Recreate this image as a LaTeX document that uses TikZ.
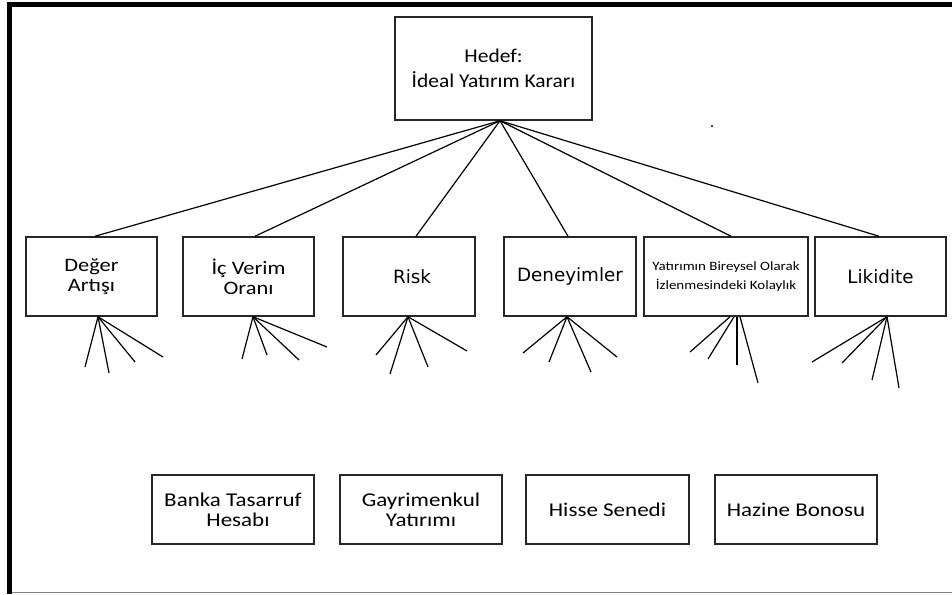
\documentclass[tikz,border=0pt]{standalone}
\usepackage{fontspec}
\setmainfont{Carlito}
\newfontfamily\calib[FakeStretch=1.18]{Carlito}
\newfontfamily\calibtop[FakeStretch=1.1]{Carlito}
\newfontfamily\dejav{DejaVu Sans}
\begin{document}
\begin{tikzpicture}[x=1pt,y=-1pt,
  box/.style={draw=black!85, line width=1.5pt, fill=white, inner sep=0pt, align=center},
  topbox/.style={box, minimum width=197pt, minimum height=103pt},
  critbox/.style={box, minimum height=79pt},
  altbox/.style={box, minimum width=162pt, minimum height=69pt},
  bigtxt/.style={font=\calibtop\fontsize{19.5}{25}\selectfont},
  midtxt/.style={font=\calib\fontsize{19}{20}\selectfont},
  widetxt/.style={font=\dejav\fontsize{18.3}{22}\selectfont},
  smalltxt/.style={font=\calib\fontsize{12.7}{19}\selectfont},
  alttxt/.style={font=\calib\fontsize{19.5}{20}\selectfont},
  link/.style={line width=1.2pt, black},
  fan/.style={line width=1.2pt, black}]
\useasboundingbox (0,0) rectangle (952,594);
\fill[white] (0,0) rectangle (952,594);

% outer frame: heavy top and left edge, thin bottom edge
\fill[black] (6.7,2.3) rectangle (952,7.3);
\fill[black] (6.7,2.3) rectangle (11.7,594);
\draw[gray, line width=1.2pt] (11.7,592.8) -- (952,592.8);

% goal
\node[topbox, bigtxt] (goal) at (493.5,68.5) {Hedef:\\İdeal Yatırım Kararı};

% criteria
\node[critbox, minimum width=131pt, midtxt] (deger) at (91.5,276.5) {Değer\\Artışı};
\node[critbox, minimum width=131pt, midtxt] (icverim) at (248.5,276.5) {İç Verim\\Oranı};
\node[critbox, minimum width=132pt, widetxt] (risk) at (409,276.5) {\hspace*{6pt}Risk};
\node[critbox, minimum width=132pt, widetxt] (deneyim) at (570,276.5) {Deneyimler};
\node[critbox, minimum width=164pt, smalltxt] (izleme) at (726,276.5) {Yatırımın Bireysel Olarak\\İzlenmesindeki Kolaylık};
\node[critbox, minimum width=131pt, widetxt] (likidite) at (880.5,276.5) {Likidite};

% alternatives
\node[altbox, alttxt] (banka) at (233,509.5) {Banka Tasarruf\\\hspace*{10pt}Hesabı};
\node[altbox, alttxt] (gayri) at (421,509.5) {Gayrimenkul\\Yatırımı};
\node[altbox, minimum width=163pt, alttxt] (hisse) at (607.5,509.5) {Hisse Senedi};
\node[altbox, alttxt] (hazine) at (796,509.5) {Hazine Bonosu};

% stray dot
\fill[black] (712,126) circle (1.2pt);

% goal to criteria
\coordinate (hub) at ([xshift=6.5pt]goal.south);
\draw[link] (hub) -- ([xshift=3.5pt]deger.north);
\draw[link] (hub) -- ([xshift=6.5pt]icverim.north);
\draw[link] (hub) -- ([xshift=7pt]risk.north);
\draw[link] (hub) -- ([xshift=-2pt]deneyim.north);
\draw[link] (hub) -- ([xshift=5pt]izleme.north);
\draw[link] (hub) -- ([xshift=-1.5pt]likidite.north);

% open fans below the criteria
\foreach \n/\x/\y in {d1/85/367, d2/109/373, d3/135/362, d4/163/357,
                      v1/242/359, v2/267/355, v3/299/360, v4/327/347,
                      r1/376/355, r2/390/374, r3/428/367, r4/467/351,
                      e1/523/353, e2/549/362, e3/591/372, e4/617/357,
                      y1/690/352, y2/708/359, y3/737/365, y4/758/383,
                      l1/812/362, l2/842/363, l3/872/380, l4/899/388}
  \coordinate (\n) at (\x,\y);

\foreach \e in {d1,d2,d3,d4} \draw[fan] ([xshift=6.5pt]deger.south) -- (\e);
\foreach \e in {v1,v2,v3,v4} \draw[fan] ([xshift=4.5pt]icverim.south) -- (\e);
\foreach \e in {r1,r2,r3,r4} \draw[fan] ([xshift=-1pt]risk.south) -- (\e);
\foreach \e in {e1,e2,e3,e4} \draw[fan] ([xshift=-3pt]deneyim.south) -- (\e);
\draw[fan] ([xshift=4pt]izleme.south) -- (y1);
\draw[fan] ([xshift=8pt]izleme.south) -- (y2);
\draw[fan] ([xshift=11pt]izleme.south) -- (y3);
\draw[fan] ([xshift=14pt]izleme.south) -- (y4);
\foreach \e in {l1,l2,l3,l4} \draw[fan] ([xshift=6.5pt]likidite.south) -- (\e);
\end{tikzpicture}
\end{document}
